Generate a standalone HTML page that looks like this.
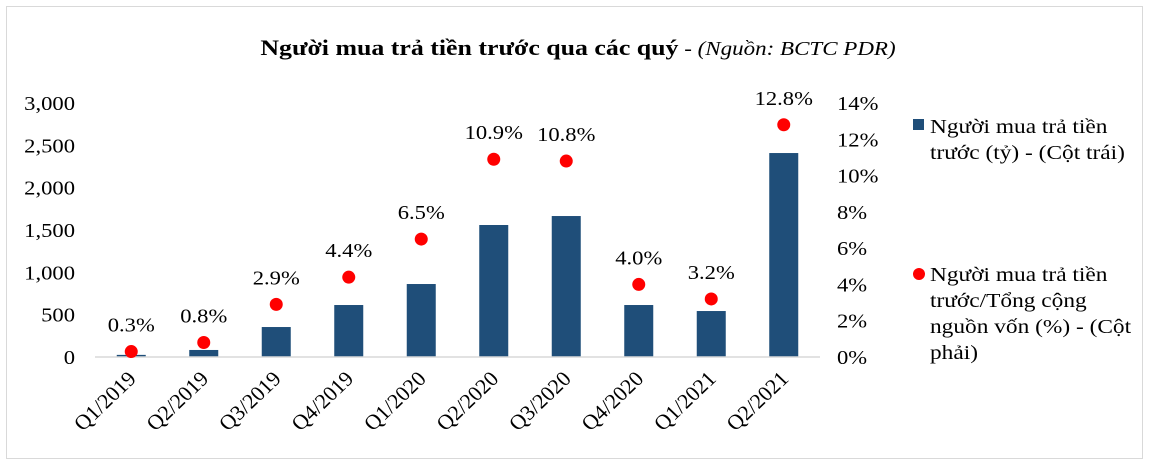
<!DOCTYPE html>
<html><head><meta charset="utf-8">
<style>
body{margin:0;background:#fff;}
svg text{font-family:"Liberation Serif",serif;fill:#000;}
</style></head>
<body>
<svg width="1149" height="464" viewBox="0 0 1149 464">
<rect x="6.5" y="6.5" width="1136" height="452" fill="#fff" stroke="#d9d9d9"/>
<text transform="translate(578,55) scale(1.15,1)" text-anchor="middle" font-size="22.5"><tspan font-weight="bold">Người mua trả tiền trước qua các quý</tspan><tspan font-style="italic" font-size="20"> - (Nguồn: BCTC PDR)</tspan></text>
<g id="plot"></g>
<g>
<rect x="913" y="119" width="11" height="11" fill="#1f4e79"/>
<text transform="translate(930,0) scale(1.14,1)" font-size="20.5"><tspan x="0" y="133">Người mua trả tiền</tspan><tspan x="0" y="159">trước (tỷ) - (Cột trái)</tspan></text>
<circle cx="919" cy="274" r="6" fill="#ff0000"/>
<text transform="translate(930,0) scale(1.14,1)" font-size="20.5"><tspan x="0" y="281">Người mua trả tiền</tspan><tspan x="0" y="307">trước/Tổng cộng</tspan><tspan x="0" y="333">nguồn vốn (%) - (Cột</tspan><tspan x="0" y="359">phải)</tspan></text>
</g>
</svg>
<script>
const categories=["Q1/2019","Q2/2019","Q3/2019","Q4/2019","Q1/2020","Q2/2020","Q3/2020","Q4/2020","Q1/2021","Q2/2021"];
const barValues=[25,83,354,614,862,1559,1665,614,543,2409];
const pctValues=[0.3,0.8,2.9,4.4,6.5,10.9,10.8,4.0,3.2,12.8];
const leftTicks=[0,500,1000,1500,2000,2500,3000];
const rightTicks=[0,2,4,6,8,10,12,14];
const NS="http://www.w3.org/2000/svg";
const g=document.getElementById('plot');
const x0=95,bw=72.5,y0=357,ytop=103,SX=1.13;
const xc=i=>x0+bw*(i+0.5);
const yL=v=>y0-v/3000*(y0-ytop);
const yR=v=>y0-v/14*(y0-ytop);
function mk(t,a){const e=document.createElementNS(NS,t);for(const k in a)e.setAttribute(k,a[k]);g.appendChild(e);return e;}
leftTicks.forEach(v=>{const t=mk('text',{transform:`translate(75,${yL(v)+7}) scale(${SX},1)`,'text-anchor':'end','font-size':20});


t.textContent=v.toLocaleString('en-US');});
rightTicks.forEach(v=>{const t=mk('text',{transform:`translate(837,${yR(v)+7}) scale(${SX},1)`,'font-size':20});


t.textContent=v+'%';});
barValues.forEach((v,i)=>{const r=mk('rect',{x:xc(i)-14.5,y:yL(v),width:29,height:y0-yL(v),fill:'#1f4e79'});

});
const ax=mk('line',{x1:x0,x2:x0+bw*10,y1:y0,y2:y0,stroke:'#d9d9d9','stroke-width':1.5});


pctValues.forEach((v,i)=>{const c=mk('circle',{cx:xc(i),cy:yR(v),r:6.5,fill:'#ff0000'});


const t=mk('text',{transform:`translate(${xc(i)},${yR(v)-20}) scale(${SX},1)`,'text-anchor':'middle','font-size':20});


t.textContent=v.toFixed(1)+'%';});
categories.forEach((c,i)=>{const t=mk('text',{x:0,y:0,'text-anchor':'end','font-size':21,transform:`translate(${xc(i)+6},${y0+23}) scale(1.05,1) rotate(-45)`});


t.textContent=c;});
</script>
</body></html>
